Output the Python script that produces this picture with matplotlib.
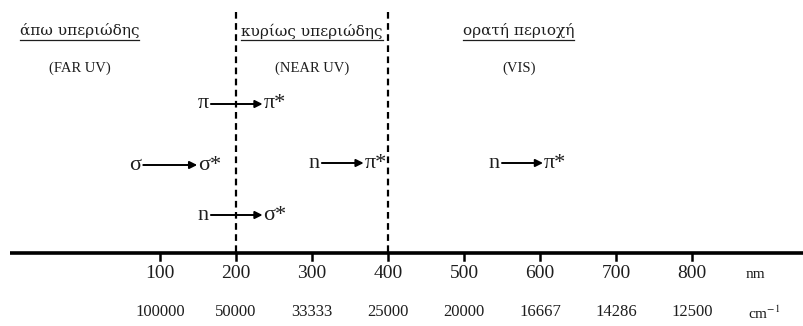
import matplotlib
matplotlib.use("Agg")
from matplotlib import pyplot as plt

plt.rcParams["font.family"] = ["Liberation Serif", "DejaVu Serif"]
plt.rcParams["mathtext.fontset"] = "stix"

# wavelength scale
nm_ticks = [100, 200, 300, 400, 500, 600, 700, 800]
wavenumber_labels = ["100000", "50000", "33333", "25000", "20000", "16667", "14286", "12500"]
region_bounds = [200, 400]

# spectral regions: greek name, english name, centre (nm)
region_names = ["άπω υπεριώδης", "κυρίως υπεριώδης", "ορατή περιοχή"]
region_short = ["(FAR UV)", "(NEAR UV)", "(VIS)"]
region_centres = [-6, 300, 572]

# electronic transitions: from, to, arrow start / end (nm), row
trans_from = ["π", "σ", "n", "n", "n"]
trans_to = ["π*", "σ*", "π*", "π*", "σ*"]
trans_start = [167, 78, 313, 550, 167]
trans_end = [235, 149, 368, 604, 235]
trans_row = [104, 165, 163, 163, 215]

TXT = "#1e1e1e"
fig = plt.figure(figsize=(8.04, 3.26), dpi=100)
ax = fig.add_axes([0, 0, 1, 1])
ax.set_xlim(-110.5, 947.4)
ax.set_ylim(326, 0)
ax.axis("off")

# main axis
ax.plot([-97, 960], [253, 253], color="black", lw=2.6, solid_capstyle="butt")
for t in nm_ticks:
    ax.plot([t, t], [253, 260], color="black", lw=1.8)
for t, w in zip(nm_ticks, wavenumber_labels):
    ax.text(t, 273, str(t), ha="center", va="center", fontsize=14, color=TXT)
    ax.text(t, 312, w, ha="center", va="center", fontsize=12, color=TXT)
ax.text(884, 275, "nm", ha="center", va="center", fontsize=11, color=TXT)
ax.text(895, 313, "cm$^{-1}$", ha="center", va="center", fontsize=11, color=TXT)

# region boundaries
for b in region_bounds:
    ax.plot([b, b], [12, 253], color="black", lw=1.6, ls=(0, (3, 2)))

# region titles
fig.canvas.draw()
rend = fig.canvas.get_renderer()
inv = ax.transData.inverted()
for name, short, c in zip(region_names, region_short, region_centres):
    t = ax.text(c, 31, name, ha="center", va="center", fontsize=11,
                family="DejaVu Serif", color=TXT)
    bb = t.get_window_extent(rend)
    (x0, y0), (x1, y1) = inv.transform([(bb.x0, bb.y0), (bb.x1, bb.y0)])
    ax.plot([x0, x1], [y0 + 1, y1 + 1], color=TXT, lw=0.9)
    ax.text(c, 68, short, ha="center", va="center", fontsize=10.5, color=TXT)

# transitions
for a, b, s, e, r in zip(trans_from, trans_to, trans_start, trans_end, trans_row):
    ax.annotate("", xy=(e, r), xytext=(s, r),
                arrowprops=dict(arrowstyle="-|>", color="black", lw=1.4,
                                mutation_scale=11, shrinkA=0, shrinkB=0))
    ax.text(s - 3, r, a, ha="right", va="center", fontsize=16, color=TXT)
    ax.text(e + 1, r, b, ha="left", va="center", fontsize=16, color=TXT)

fig.savefig("out.png", dpi=100, facecolor="white")
